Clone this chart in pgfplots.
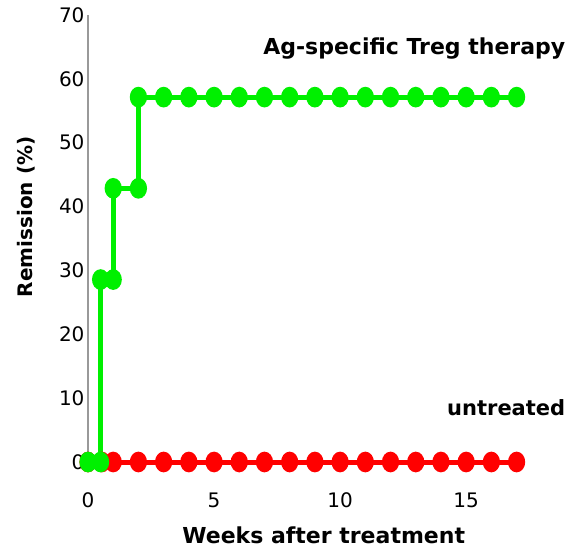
\documentclass[border=0pt]{standalone}
\usepackage{pgfplots}
\pgfplotsset{compat=1.18}
\usepackage{fontspec}
\setmainfont{DejaVu Sans}
\definecolor{tgreen}{RGB}{0,240,0}
\definecolor{tred}{RGB}{255,0,0}
\begin{document}
\begin{tikzpicture}[x=1pt,y=1pt]
\path[draw=none] (-88,-89) rectangle (490,462);
\begin{axis}[
  at={(0,0)}, anchor=origin,
  scale only axis,
  width=479pt, height=447pt,
  xmin=0, xmax=19, ymin=0, ymax=70,
  clip=false,
  axis x line=none,
  axis y line*=left,
  axis line style={draw=gray!80, line width=1.2pt, -},
  ytick={0,10,...,70},
  major tick length=0pt,
  yticklabel style={font=\fontsize{20}{21}\selectfont, xshift=0pt},
  /pgf/number format/assume math mode=true,
]
\end{axis}
\begin{axis}[
  at={(0,0)}, anchor=origin,
  scale only axis,
  width=479pt, height=447pt,
  xmin=0, xmax=19, ymin=0, ymax=70,
  clip=false,
  hide y axis,
  axis x line*=bottom,
  x axis line style={draw=none},
  xtick={0,5,10,15},
  major tick length=0pt,
  xticklabel style={font=\fontsize{20}{21}\selectfont, yshift=-27pt},
  /pgf/number format/assume math mode=true,
]
\addplot[tred, line width=5pt, mark=*, mark size=7.8pt, mark options={xscale=0.78, solid}]
  coordinates {(0,0) (0.55,0) (1,0) (2,0) (3,0) (4,0) (5,0) (6,0) (7,0) (8,0) (9,0) (10,0) (11,0) (12,0) (13,0) (14,0) (15,0) (16,0) (17,0)};
\addplot[tgreen, line width=5pt, mark=*, mark size=7.8pt, mark options={xscale=0.78, solid}]
  coordinates {(0,0) (0.5,0) (0.5,28.57) (1,28.57) (1,42.86) (2,42.86) (2,57.14) (3,57.14) (4,57.14) (5,57.14) (6,57.14) (7,57.14) (8,57.14) (9,57.14) (10,57.14) (11,57.14) (12,57.14) (13,57.14) (14,57.14) (15,57.14) (16,57.14) (17,57.14)};
\node[anchor=east, font=\fontsize{22}{24}\selectfont\bfseries] at (axis cs:19.07,64.8) {Ag-specific Treg therapy};
\node[anchor=east, font=\fontsize{21}{23}\selectfont\bfseries] at (axis cs:19.07,8.5) {untreated};
\node[rotate=90, font=\fontsize{20}{22}\selectfont\bfseries] at (axis cs:-2.45,38.4) {Remission (\%)};
\node[font=\fontsize{22}{24}\selectfont\bfseries] at (axis cs:9.35,-11.5) {Weeks after treatment};
\end{axis}
\end{tikzpicture}
\end{document}
